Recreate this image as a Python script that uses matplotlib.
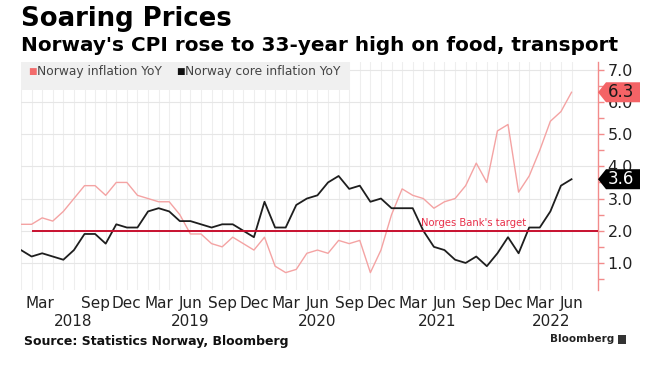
import numpy as np
import matplotlib
matplotlib.use("Agg")
import matplotlib.pyplot as plt
from matplotlib.patches import Polygon, Rectangle
import matplotlib.transforms as mtransforms

plt.rcParams['font.family'] = ['DejaVu Sans']

# ---- data (monthly, Feb 2018 .. Jun 2022) ----
headline = [2.2, 2.2, 2.4, 2.3, 2.6, 3.0, 3.4, 3.4, 3.1, 3.5, 3.5,
            3.1, 3.0, 2.9, 2.9, 2.5, 1.9, 1.9, 1.6, 1.5, 1.8, 1.6, 1.4,
            1.8, 0.9, 0.7, 0.8, 1.3, 1.4, 1.3, 1.7, 1.6, 1.7, 0.7, 1.4,
            2.5, 3.3, 3.1, 3.0, 2.7, 2.9, 3.0, 3.4, 4.1, 3.5, 5.1, 5.3,
            3.2, 3.7, 4.5, 5.4, 5.7, 6.3]
core = [1.4, 1.2, 1.3, 1.2, 1.1, 1.4, 1.9, 1.9, 1.6, 2.2, 2.1,
        2.1, 2.6, 2.7, 2.6, 2.3, 2.3, 2.2, 2.1, 2.2, 2.2, 2.0, 1.8,
        2.9, 2.1, 2.1, 2.8, 3.0, 3.1, 3.5, 3.7, 3.3, 3.4, 2.9, 3.0,
        2.7, 2.7, 2.7, 2.0, 1.5, 1.4, 1.1, 1.0, 1.2, 0.9, 1.3, 1.8,
        1.3, 2.1, 2.1, 2.6, 3.4, 3.6]
target = 2.0
month_ticks = [1, 7, 10, 13, 16, 19, 22, 25, 28, 31, 34, 37, 40, 43, 46, 49, 52]
month_labels = ["Mar", "Sep", "Dec", "Mar", "Jun", "Sep", "Dec", "Mar", "Jun",
                "Sep", "Dec", "Mar", "Jun", "Sep", "Dec", "Mar", "Jun"]
year_labels = ["2018", "2019", "2020", "2021", "2022"]
year_pos = [4.9, 16.0, 28.0, 39.3, 50.1]
y_ticks = [1.0, 2.0, 3.0, 4.0, 5.0, 6.0, 7.0]

RED_LINE = "#f4a3a3"
BLACK = "#1e1e1e"
TARGET = "#c8102e"
SPINE = "#f28b8b"
TAG_RED = "#f46366"

W, H = 664, 368
fig = plt.figure(figsize=(W / 100, H / 100), dpi=100)
fig.patch.set_facecolor("white")

x0, x1 = 21, 598
ytop, ybot = 62, 290
ax = fig.add_axes([x0 / W, 1 - ybot / H, (x1 - x0) / W, (ybot - ytop) / H])

x = np.arange(len(headline))
ax.set_xlim(0, 54.5)
ax.set_ylim(0.16, 7.24)

# grid
for m in x:
    ax.axvline(m, color="#eeeeee", lw=0.8, zorder=0)
for v in y_ticks:
    ax.axhline(v, color="#e6e6e6", lw=0.8, zorder=0)

ax.plot(x, headline, color=RED_LINE, lw=1.0, zorder=3)
ax.plot(x, core, color=BLACK, lw=1.3, zorder=4)
ax.hlines(target, 1, 54.5, color=TARGET, lw=1.4, zorder=5)
ax.text(42.7, target + 0.07, "Norges Bank's target", color="#e8304a",
        fontsize=7.2, ha="center", va="bottom", zorder=6)

# legend band
ax.add_patch(Rectangle((0, (ybot - 90) / (ybot - ytop)), (350 - x0) / (x1 - x0),
                       (90 - ytop) / (ybot - ytop), transform=ax.transAxes,
                       facecolor="#f0f0f0", edgecolor="none", zorder=7, clip_on=False))
ly = 1 - 71.5 / H
fig.text(28 / W, ly, "■", color="#f26b6b", fontsize=6.5, va="center", ha="left")
fig.text(37 / W, ly, "Norway inflation YoY", color="#444444", fontsize=8.8,
         va="center", ha="left")
fig.text(176 / W, ly, "■", color="#111111", fontsize=6.5, va="center", ha="left")
fig.text(185 / W, ly, "Norway core inflation YoY", color="#444444", fontsize=8.8,
         va="center", ha="left")

# spines / axes
for s in ["left", "top", "bottom"]:
    ax.spines[s].set_visible(False)
ax.spines["right"].set_color(SPINE)
ax.spines["right"].set_linewidth(1.0)
ax.yaxis.tick_right()
ax.set_yticks(y_ticks)
ax.set_yticks(np.arange(0.5, 7.01, 1.0), minor=True)
ax.set_yticklabels([f"{v:.1f}" for v in y_ticks])
ax.tick_params(axis="y", which="both", direction="out", length=4, width=1.0,
               color=SPINE, labelsize=11.5, labelcolor="#222222", pad=3)

ax.set_xticks(month_ticks)
ax.set_xticklabels(month_labels)
ax.tick_params(axis="x", length=0, labelsize=11, labelcolor="#222222", pad=4)
lab0 = ax.get_xticklabels()[0]
lab0.set_transform(lab0.get_transform() + mtransforms.ScaledTranslation(8 / 100, 0, fig.dpi_scale_trans))

for lbl, p in zip(year_labels, year_pos):
    ax.text(p, -0.138, lbl, transform=ax.get_xaxis_transform(), ha="center", va="center",
            fontsize=11, color="#222222")

# value tags
def tag(value, face, textcolor):
    fig.canvas.draw()
    _, yp = ax.transData.transform((0, value))
    xs = ax.transAxes.transform((1, 0))[0]
    h = 10
    pts_disp = [(xs, yp), (xs + 8, yp + h), (W - 24, yp + h), (W - 24, yp - h), (xs + 8, yp - h)]
    pts = fig.transFigure.inverted().transform(pts_disp)
    fig.patches.append(Polygon(pts, closed=True, facecolor=face, edgecolor="none",
                               transform=fig.transFigure, figure=fig, zorder=2))
    fig.text((xs + 10) / W, yp / H, f"{value:.1f}", color=textcolor, fontsize=12,
             va="center", ha="left", zorder=3)

tag(headline[-1], TAG_RED, "#1a1a1a")
tag(core[-1], "#000000", "#ffffff")

# titles
fig.text(21 / W, 1 - 19 / H, "Soaring Prices", fontsize=18.7, fontweight="bold",
         va="center", ha="left", color="#000000")
fig.text(21 / W, 1 - 45.5 / H, "Norway's CPI rose to 33-year high on food, transport",
         fontsize=14.4, fontweight="bold", va="center", ha="left", color="#000000")
fig.text(24 / W, 1 - 342 / H, "Source: Statistics Norway, Bloomberg", fontsize=9,
         fontweight="bold", va="center", ha="left", color="#111111")
fig.text(614 / W, 1 - 339 / H, "Bloomberg", fontsize=7.5, fontweight="bold",
         va="center", ha="right", color="#222222")
fig.patches.append(Rectangle((618 / W, 1 - 344 / H), 8 / W, 9 / H, transform=fig.transFigure,
                             facecolor="#333333", edgecolor="none", figure=fig))

fig.savefig("out.png", dpi=100)
